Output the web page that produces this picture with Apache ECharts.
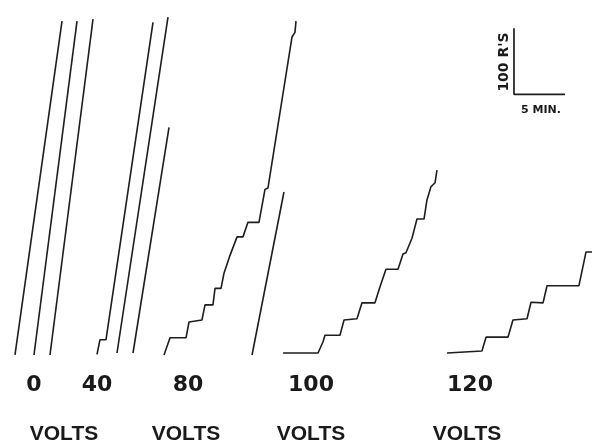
<!DOCTYPE html>
<html>
<head>
<meta charset="utf-8">
<script src="https://cdn.jsdelivr.net/npm/echarts@6/dist/echarts.min.js"></script>
<style>
  html, body { margin: 0; padding: 0; background: #fff; }
  #chart { width: 592px; height: 444px; }
</style>
</head>
<body>
<div id="chart"></div>
<script>
// cumulative records: [minutes, cumulative responses]
const volts0 = [
  [[1.47, -3], [6.08, 503]],
  [[3.33, -3], [7.55, 503]],
  [[4.90, -3], [9.12, 506]]
]
const volts40 = [
  [[9.51, -2], [9.80, 20], [10.39, 20], [15.0, 501]],
  [[11.47, 0], [16.47, 509]],
  [[13.04, 0], [16.57, 342]]
]
const volts80 = [
  [[16.08, -3], [16.67, 23], [18.24, 23], [18.53, 47], [19.80, 50], [20.10, 73],
   [20.88, 73], [21.08, 98], [21.67, 98], [21.96, 121], [22.55, 148], [23.24, 176],
   [23.82, 176], [24.31, 198], [25.39, 198], [25.98, 248], [26.27, 250],
   [28.63, 479], [28.92, 486], [29.02, 503]],
  [[24.71, -3], [27.84, 244]]
]
const volts100 = [
  [[27.75, 0], [31.18, 0], [31.67, 17], [31.86, 27], [33.33, 27], [33.73, 50],
   [35.00, 52], [35.49, 76], [36.76, 76], [37.25, 100], [37.84, 127], [39.02, 127],
   [39.51, 150], [39.80, 152], [40.39, 174], [40.88, 203], [41.57, 203],
   [41.86, 232], [42.25, 252], [42.65, 258], [42.84, 277]]
]
const volts120 = [
  [[43.82, 0], [47.25, 3], [47.65, 24], [49.80, 24], [50.29, 50], [51.67, 52],
   [52.06, 77], [53.24, 76], [53.63, 102], [56.76, 102], [57.45, 153], [58.04, 153]]
]
const voltLabels = ['0', '40', '80', '100', '120']
const scaleBar = { minutes: 5, responses: 100, at: [50.39, 392] }

const chart = echarts.init(document.getElementById('chart'))

const records = [...volts0, ...volts40, ...volts80, ...volts100, ...volts120]
const series = records.map(rec => ({
  type: 'line',
  data: rec,
  showSymbol: false,
  clip: false,
  silent: true,
  lineStyle: { color: '#1e1e1e', width: 1.6 }
}))

const [bx, by] = scaleBar.at
series.push({
  type: 'line',
  data: [[bx, by + scaleBar.responses], [bx, by], [bx + scaleBar.minutes, by]],
  showSymbol: false,
  clip: false,
  silent: true,
  lineStyle: { color: '#1e1e1e', width: 1.7 }
})

const numX = [34, 97, 188, 311, 470]
const voltsX = [64, 186, 311, 467]
const graphic = []
voltLabels.forEach((t, i) => {
  graphic.push({
    type: 'text', x: numX[i], y: 385,
    style: { text: t, font: 'bold 22px "DejaVu Sans"', fill: '#1a1a1a', align: 'center', verticalAlign: 'middle' }
  })
})
voltsX.forEach(x => {
  graphic.push({
    type: 'text', x: x, y: 434,
    style: { text: 'VOLTS', font: 'bold 21px "Liberation Sans"', fill: '#1a1a1a', align: 'center', verticalAlign: 'middle' }
  })
})
graphic.push({
  type: 'text', x: 504, y: 62, rotation: Math.PI / 2,
  style: { text: "100 R'S", font: 'bold 14px "DejaVu Sans"', fill: '#1a1a1a', align: 'center', verticalAlign: 'middle' }
})
graphic.push({
  type: 'text', x: 541, y: 110,
  style: { text: '5 MIN.', font: 'bold 11px "DejaVu Sans"', fill: '#1a1a1a', align: 'center', verticalAlign: 'middle' }
})

const option = {
  animation: false,
  backgroundColor: '#ffffff',
  grid: { left: 0, right: 0, top: 0, bottom: 91 },
  xAxis: { type: 'value', min: 0, max: 58.04, show: false },
  yAxis: { type: 'value', min: 0, max: 535, show: false },
  series: series,
  graphic: graphic
}
option && chart.setOption(option)
</script>
</body>
</html>
